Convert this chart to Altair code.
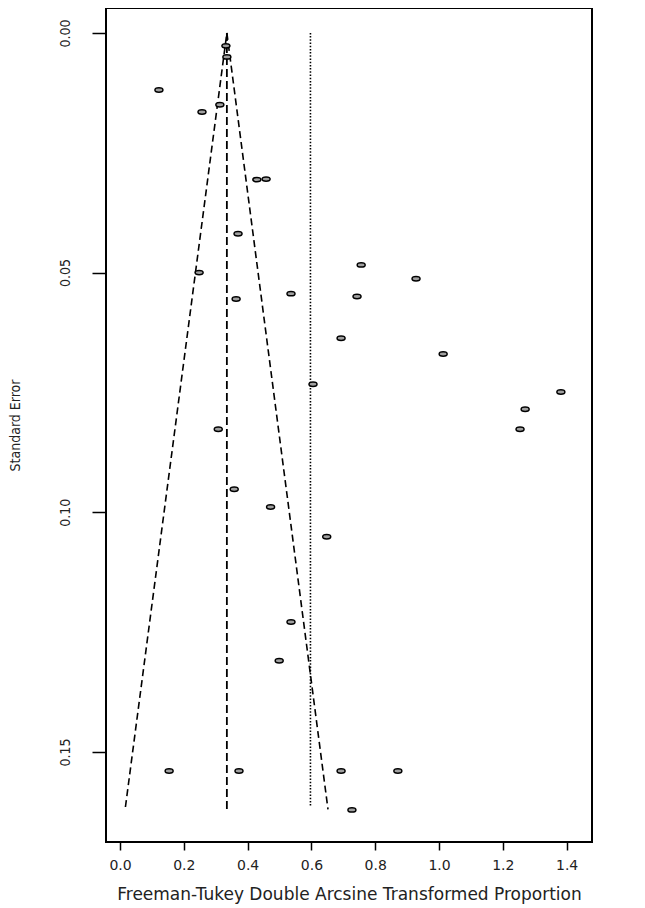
import altair as alt
import pandas as pd

# Study points (transformed proportion, standard error)
pt_x = [0.122, 0.257, 0.313, 0.332, 0.335, 0.429, 0.458, 0.370, 0.248, 0.364,
        0.536, 0.756, 0.928, 0.743, 0.693, 1.013, 0.605, 1.382, 1.270, 1.254,
        0.308, 0.358, 0.472, 0.648, 0.536, 0.499, 0.154, 0.373, 0.693, 0.871,
        0.727]
pt_se = [0.0119, 0.0165, 0.0150, 0.0027, 0.0050, 0.0306, 0.0305, 0.0419, 0.0500, 0.0555,
         0.0544, 0.0484, 0.0513, 0.0550, 0.0637, 0.0670, 0.0733, 0.0749, 0.0785, 0.0827,
         0.0827, 0.0952, 0.0989, 0.1051, 0.1229, 0.1310, 0.1540, 0.1540, 0.1540, 0.1540,
         0.1621]

# Funnel outline (pseudo 95% limits)
funnel_x = [0.335, 0.017, 0.335, 0.652]
funnel_se = [0.0, 0.1615, 0.0, 0.1620]
funnel_side = ["left", "left", "right", "right"]

# Reference lines
pooled_x = [0.335]
pooled_se = [0.0]
pooled_se2 = [0.1623]
ref_x = [0.597]
ref_se = [0.0]
ref_se2 = [0.1615]

x_ticks = [0.0, 0.2, 0.4, 0.6, 0.8, 1.0, 1.2, 1.4]
y_ticks = [0.00, 0.05, 0.10, 0.15]

pts = pd.DataFrame({"x": pt_x, "se": pt_se})
fun = pd.DataFrame({"x": funnel_x, "se": funnel_se, "side": funnel_side})
pooled = pd.DataFrame({"x": pooled_x, "se": pooled_se, "se2": pooled_se2})
refl = pd.DataFrame({"x": ref_x, "se": ref_se, "se2": ref_se2})

xscale = alt.Scale(domain=[-0.0439, 1.4796], nice=False, zero=False)
yscale = alt.Scale(domain=[-0.0052, 0.1688], nice=False, zero=False, reverse=True)

xaxis = alt.Axis(values=x_ticks, format=".1f", title="Freeman-Tukey Double Arcsine Transformed Proportion",
                 domain=False, grid=False, tickSize=8, tickWidth=1.5, tickColor="black",
                 labelFont="DejaVu Sans", labelFontSize=14, labelColor="#222", labelPadding=8,
                 titleFont="DejaVu Sans", titleFontSize=17, titleFontWeight="normal",
                 titleColor="#222", titlePadding=14)
yaxis = alt.Axis(values=y_ticks, format=".2f", title="Standard Error",
                 domain=False, grid=False, tickSize=14, tickWidth=1.5, tickColor="black",
                 labelFont="DejaVu Sans Condensed", labelFontSize=14, labelColor="#222",
                 labelAngle=270, labelPadding=20,
                 titleFont="DejaVu Sans Condensed", titleFontSize=14, titleFontWeight="normal",
                 titleColor="#222", titlePadding=36)

funnel = alt.Chart(fun).mark_line(color="black", strokeWidth=1.6, strokeDash=[7, 4]).encode(
    x=alt.X("x:Q", scale=xscale, axis=xaxis),
    y=alt.Y("se:Q", scale=yscale, axis=yaxis),
    detail="side:N",
)

center = alt.Chart(pooled).mark_rule(color="black", strokeWidth=1.8, strokeDash=[8, 4]).encode(
    x=alt.X("x:Q", scale=xscale), y=alt.Y("se:Q", scale=yscale), y2="se2:Q"
)

dotted = alt.Chart(refl).mark_rule(color="black", strokeWidth=1.6, strokeDash=[1.5, 1.7]).encode(
    x=alt.X("x:Q", scale=xscale), y=alt.Y("se:Q", scale=yscale), y2="se2:Q"
)

ellipse = "M-1,0A1,0.55,0,1,0,1,0A1,0.55,0,1,0,-1,0Z"
points = alt.Chart(pts).mark_point(shape=ellipse, size=64, filled=False, fill="#a0a0a0",
                                   fillOpacity=1, stroke="black", strokeWidth=1.5, opacity=1).encode(
    x=alt.X("x:Q", scale=xscale), y=alt.Y("se:Q", scale=yscale)
)

chart = alt.layer(funnel, center, dotted, points).properties(
    width=486, height=834,
    autosize=alt.AutoSizeParams(type="none"),
    padding={"left": 98, "top": 0, "right": 30, "bottom": 68},
    background="white",
).configure_view(stroke="black", strokeWidth=2)

chart.save("out.html", embed_options={"renderer": "svg", "actions": False})
